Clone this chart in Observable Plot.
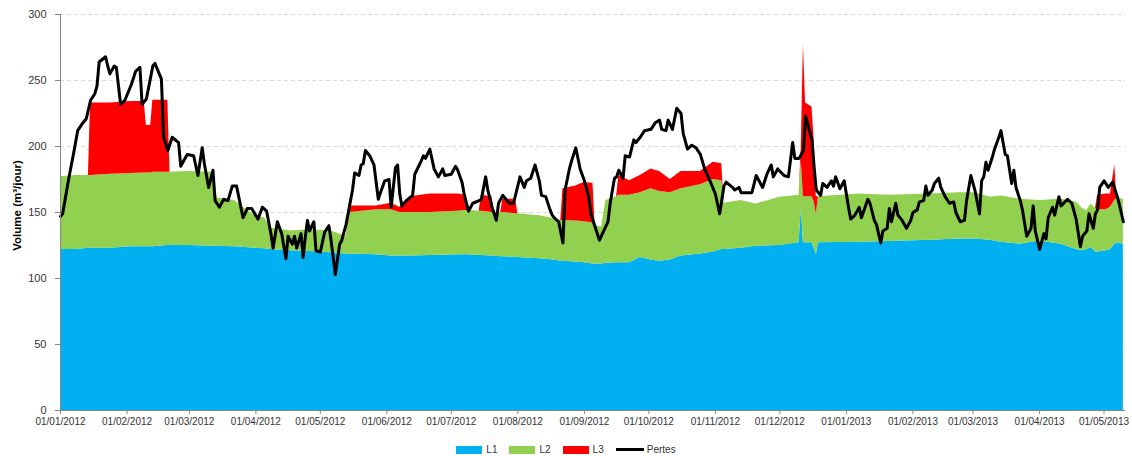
<!DOCTYPE html>
<html>
<head>
<meta charset="utf-8">
<script src="https://cdn.jsdelivr.net/npm/d3@7"></script>
<script src="https://cdn.jsdelivr.net/npm/@observablehq/plot@0.6"></script>
<style>
  body { margin: 0; background: #fff; font-family: "Liberation Sans", Arial, sans-serif; }
  #chart { width: 1132px; }
  .legend { display: flex; justify-content: center; align-items: center; height: 17px; padding-top: 2px;
            font-size: 10px; color: #333; }
  .legend .item { display: flex; align-items: center; margin: 0 6px; }
  .legend .sw { width: 26px; height: 8px; margin-right: 4px; }
  .legend .ln { width: 28px; height: 3px; background: #000; margin-right: 3px; }
</style>
</head>
<body>
<div id="chart"></div>
<script>
// Stacked daily volumes per line (m3/jour)
const areaDates = [
  "2012-01-01","2012-01-08","2012-01-14","2012-01-15","2012-01-24","2012-02-03","2012-02-09","2012-02-10",
  "2012-02-12","2012-02-13","2012-02-20","2012-02-21","2012-03-01","2012-03-12","2012-03-14","2012-03-22",
  "2012-04-01","2012-04-05","2012-04-08","2012-04-17","2012-04-26","2012-05-06","2012-05-13","2012-05-15",
  "2012-05-27","2012-06-03","2012-06-07","2012-06-12","2012-06-21","2012-07-04","2012-07-08","2012-07-09",
  "2012-07-14","2012-07-15","2012-07-20","2012-07-21","2012-07-24","2012-07-25","2012-07-31","2012-08-01",
  "2012-08-11","2012-08-18","2012-08-21","2012-08-22","2012-08-28","2012-09-01","2012-09-05","2012-09-06",
  "2012-09-09","2012-09-11","2012-09-16","2012-09-17","2012-09-22","2012-09-27","2012-10-02","2012-10-06",
  "2012-10-11","2012-10-16","2012-10-25","2012-10-31","2012-11-04","2012-11-05","2012-11-13","2012-11-20",
  "2012-12-01","2012-12-10","2012-12-11","2012-12-12","2012-12-13","2012-12-16","2012-12-17","2012-12-18",
  "2012-12-19","2013-01-07","2013-01-21","2013-02-09","2013-02-23","2013-03-02","2013-03-09","2013-03-14",
  "2013-03-23","2013-04-01","2013-04-11","2013-04-18","2013-04-21","2013-04-23","2013-04-25","2013-04-27",
  "2013-04-28","2013-05-02","2013-05-04","2013-05-06","2013-05-07","2013-05-10"
];
const l1 = [
  122,122,123,123,123,124,124,124, 124,124,125,125,125,124.5,124.5,124,
  123,122.5,122,121,120.5,119.5,118.5,118.5, 118,117,117,117,117.5,118,118,118,
  117.5,117.5,117,117,116.5,116.5,116,116, 115,114,113,113,112.5,112,111,111,
  111,111.5,112,112,112,116,114,113, 114,117,118.5,120,122,122,123,124.5,
  125,127,154,127,127,127,123,118, 127,127.5,128,129,130,130,129,127.5,
  126,128.5,126,122,121,122,123.5,120, 120,121,122,126,127,126
];
const l2 = [
  55,56,55,55,56,55.5,56,56, 56,56.5,55.5,55.5,56,56,36.5,35,
  24,23.5,16,15,16.5,16.5,13.5,31.5, 34,35,33,33,32.5,33,33.5,33.5,
  33.5,33.5,33,33,33.5,33.5,33,33, 32.5,31.5,31,31,31,31,31,29,
  28,47.5,50,51,51,49,54,53, 51,51,52.5,55,52,35,36,32,
  36.5,36,35,35,35,35,35,31, 35,36.5,35,35,35,35,32.5,35,
  34,30.5,34,36,32,29.5,33,33, 32,31,32,33,34,34
];
const l3 = [
  0,0,0,55,54,54.5,54,36, 36,54.5,54.5,0,0,0,0,0,
  0,0,0,0,0,0,0,5, 3,5,4,12,14,13,11.5,0,
  0,12,12,0,0,10,11,0, 0,0,0,24,26.5,30,30,0,
  0,0,0,15,11,13,15,15, 10,13,10,13,13,0,0,0,
  0,0,11,115,71,68,47,13, 0,0,0,0,0,0,0,0,
  0,0,0,0,0,0,0,0, 11,12,10,27,0,0
];

// Daily losses (Pertes)
const lossDates = [
  "2012-01-01","2012-01-02","2012-01-05","2012-01-07","2012-01-09","2012-01-11","2012-01-13","2012-01-15",
  "2012-01-17","2012-01-18","2012-01-19","2012-01-22","2012-01-23","2012-01-24","2012-01-26","2012-01-27",
  "2012-01-29","2012-01-31","2012-02-03","2012-02-05","2012-02-07","2012-02-08","2012-02-10","2012-02-13",
  "2012-02-14","2012-02-17","2012-02-18","2012-02-20","2012-02-22","2012-02-25","2012-02-26","2012-02-29",
  "2012-03-03","2012-03-05","2012-03-07","2012-03-08","2012-03-10","2012-03-12","2012-03-13","2012-03-15",
  "2012-03-17","2012-03-19","2012-03-21","2012-03-23","2012-03-26","2012-03-28","2012-03-30","2012-04-02",
  "2012-04-04","2012-04-06","2012-04-08","2012-04-09","2012-04-11","2012-04-13","2012-04-15","2012-04-16",
  "2012-04-18","2012-04-19","2012-04-20","2012-04-22","2012-04-23","2012-04-24","2012-04-25","2012-04-26",
  "2012-04-28","2012-04-29","2012-05-01","2012-05-03","2012-05-05","2012-05-06","2012-05-08","2012-05-10",
  "2012-05-11","2012-05-13","2012-05-16","2012-05-17","2012-05-19","2012-05-20","2012-05-21","2012-05-22",
  "2012-05-24","2012-05-26","2012-05-28","2012-05-29","2012-05-31","2012-06-02","2012-06-03","2012-06-05",
  "2012-06-06","2012-06-07","2012-06-08","2012-06-10","2012-06-13","2012-06-14","2012-06-17","2012-06-18",
  "2012-06-19","2012-06-21","2012-06-23","2012-06-25","2012-06-27","2012-06-28","2012-07-01","2012-07-03",
  "2012-07-04","2012-07-06","2012-07-07","2012-07-09","2012-07-11","2012-07-14","2012-07-15","2012-07-17",
  "2012-07-18","2012-07-20","2012-07-22","2012-07-23","2012-07-25","2012-07-28","2012-07-30","2012-08-02",
  "2012-08-04","2012-08-05","2012-08-07","2012-08-09","2012-08-11","2012-08-12","2012-08-14","2012-08-16",
  "2012-08-17","2012-08-18","2012-08-20","2012-08-22","2012-08-23","2012-08-25","2012-08-26","2012-08-28",
  "2012-08-30","2012-09-01","2012-09-03","2012-09-04","2012-09-06","2012-09-08","2012-09-10","2012-09-12",
  "2012-09-13","2012-09-15","2012-09-16","2012-09-17","2012-09-19","2012-09-20","2012-09-22","2012-09-24",
  "2012-09-25","2012-09-27","2012-09-29","2012-10-02","2012-10-04","2012-10-06","2012-10-07","2012-10-09",
  "2012-10-10","2012-10-12","2012-10-14","2012-10-16","2012-10-17","2012-10-19","2012-10-21","2012-10-23",
  "2012-10-25","2012-10-27","2012-10-30","2012-11-01","2012-11-03","2012-11-05","2012-11-06","2012-11-09",
  "2012-11-10","2012-11-12","2012-11-13","2012-11-16","2012-11-18","2012-11-20","2012-11-23","2012-11-25",
  "2012-11-27","2012-11-28","2012-11-30","2012-12-03","2012-12-05","2012-12-07","2012-12-08","2012-12-10",
  "2012-12-12","2012-12-13","2012-12-14","2012-12-16","2012-12-17","2012-12-18","2012-12-20","2012-12-21",
  "2012-12-23","2012-12-25","2012-12-26","2012-12-27","2012-12-29","2012-12-31","2013-01-01","2013-01-02",
  "2013-01-03","2013-01-05","2013-01-07","2013-01-08","2013-01-11","2013-01-12","2013-01-14","2013-01-15",
  "2013-01-17","2013-01-18","2013-01-20","2013-01-21","2013-01-22","2013-01-24","2013-01-25","2013-01-27",
  "2013-01-29","2013-01-31","2013-02-01","2013-02-03","2013-02-04","2013-02-06","2013-02-07","2013-02-08",
  "2013-02-10","2013-02-11","2013-02-13","2013-02-14","2013-02-16","2013-02-18","2013-02-20","2013-02-21",
  "2013-02-23","2013-02-25","2013-02-26","2013-02-28","2013-03-02","2013-03-04","2013-03-05","2013-03-06",
  "2013-03-07","2013-03-08","2013-03-10","2013-03-11","2013-03-13","2013-03-14","2013-03-16","2013-03-17",
  "2013-03-19","2013-03-20","2013-03-21","2013-03-23","2013-03-24","2013-03-26","2013-03-28","2013-03-29",
  "2013-03-30","2013-04-01","2013-04-03","2013-04-04","2013-04-05","2013-04-07","2013-04-08","2013-04-10",
  "2013-04-11","2013-04-14","2013-04-16","2013-04-18","2013-04-20","2013-04-21","2013-04-23","2013-04-24",
  "2013-04-26","2013-04-27","2013-04-28","2013-04-29","2013-05-01","2013-05-03","2013-05-05","2013-05-07",
  "2013-05-08","2013-05-10"
];
const lossValues = [
  147,149,177,194,212,217,221,235, 240,246,264,268,261,255,261,260,
  232,235,247,257,260,232,236,261, 263,251,207,197,207,203,185,194,
  193,178,199,187,169,182,159,154, 160,159,170,170,146,153,153,145,
  154,151,134,123,143,134,115,132, 126,132,123,134,116,131,144,136,
  143,121,120,135,140,129,103,126, 129,141,167,180,178,186,187,197,
  193,186,160,165,174,175,154,184, 186,164,155,159,163,179,189,193,
  191,198,183,177,183,178,179,185, 182,173,164,151,157,159,160,177,
  167,154,144,157,163,157,157,177, 169,174,176,186,174,163,162,152,
  148,146,143,127,167,183,189,199, 183,174,162,149,139,129,136,143,
  157,176,177,182,176,193,192,205, 203,207,212,213,218,220,213,212,
  220,213,229,225,210,198,201,199, 194,183,172,164,149,170,173,169,
  167,169,165,165,165,178,169,179, 186,177,183,178,177,203,191,191,
  197,223,217,205,184,167,163,172, 169,174,170,177,168,174,164,154,
  145,148,154,146,160,157,144,141, 127,136,138,153,143,157,148,144,
  138,144,150,152,158,159,170,163, 167,172,176,169,162,157,158,150,
  143,144,159,178,166,149,174,177, 188,182,192,198,207,212,194,193,
  172,182,169,159,152,132,138,155, 136,122,134,130,146,154,148,162,
  155,160,157,145,124,132,136,149, 138,149,152,169,174,169,173,163,
  157,143
];

const seriesNames = ["L1", "L2", "L3"];
const seriesColors = ["#00B0F0", "#92D050", "#FF0000"];
const lossLabel = "Pertes";
const yTicks = [0, 50, 100, 150, 200, 250, 300];
const yLabel = "Volume (m³/jour)";

const parse = d3.utcParse("%Y-%m-%d");
const seriesValues = [l1, l2, l3];
const stacked = [];
seriesNames.forEach((name, k) => {
  areaDates.forEach((d, i) => stacked.push({date: parse(d), series: name, value: seriesValues[k][i]}));
});
const lossData = lossDates.map((d, i) => ({date: parse(d), value: lossValues[i]}));

const xStart = parse("2012-01-01");
const xEnd = parse("2013-05-11");
const monthTicks = d3.utcMonth.range(xStart, xEnd);
const axisGrey = "#868686";

const chart = Plot.plot({
  width: 1132,
  height: 439,
  marginLeft: 60,
  marginRight: 7,
  marginTop: 14,
  marginBottom: 29,
  style: {fontFamily: "'Liberation Sans', Arial, sans-serif", fontSize: "10px", color: "#333", background: "#fff"},
  x: {type: "utc", domain: [xStart, xEnd]},
  y: {domain: [0, 300]},
  color: {domain: seriesNames, range: seriesColors},
  marks: [
    Plot.ruleY(yTicks.filter((v) => v > 0), {stroke: "#d9d9d9", strokeDasharray: "4,3"}),
    Plot.areaY(stacked, {x: "date", y: "value", fill: "series", order: seriesNames}),
    Plot.line(lossData, {x: "date", y: "value", stroke: "#000", strokeWidth: 3, strokeLinejoin: "round"}),
    Plot.ruleY([0], {stroke: axisGrey}),
    Plot.ruleX([xStart], {y1: 0, y2: 300, stroke: axisGrey}),
    Plot.axisX({ticks: monthTicks, tickFormat: d3.utcFormat("%d/%m/%Y"), tickSize: 4, tickPadding: 3,
                label: null, stroke: axisGrey, fill: "#333"}),
    Plot.axisY({ticks: yTicks, tickSize: 5, tickPadding: 9, label: null, stroke: axisGrey, fill: "#333", fontSize: 11}),
    Plot.text([yLabel], {text: (d) => d, frameAnchor: "left", textAnchor: "middle", rotate: -90, dx: -43, dy: -7,
                         fontWeight: "bold", fontSize: 11.5, fill: "#000"})
  ]
});

const root = document.getElementById("chart");
root.appendChild(chart);

// Legend below the plot
const legend = document.createElement("div");
legend.className = "legend";
seriesNames.forEach((name, k) => {
  const item = document.createElement("div");
  item.className = "item";
  const sw = document.createElement("span");
  sw.className = "sw";
  sw.style.background = seriesColors[k];
  const label = document.createElement("span");
  label.textContent = name;
  item.append(sw, label);
  legend.appendChild(item);
});
const lossItem = document.createElement("div");
lossItem.className = "item";
const ln = document.createElement("span");
ln.className = "ln";
const lossText = document.createElement("span");
lossText.textContent = lossLabel;
lossItem.append(ln, lossText);
legend.appendChild(lossItem);
root.appendChild(legend);
</script>
</body>
</html>
